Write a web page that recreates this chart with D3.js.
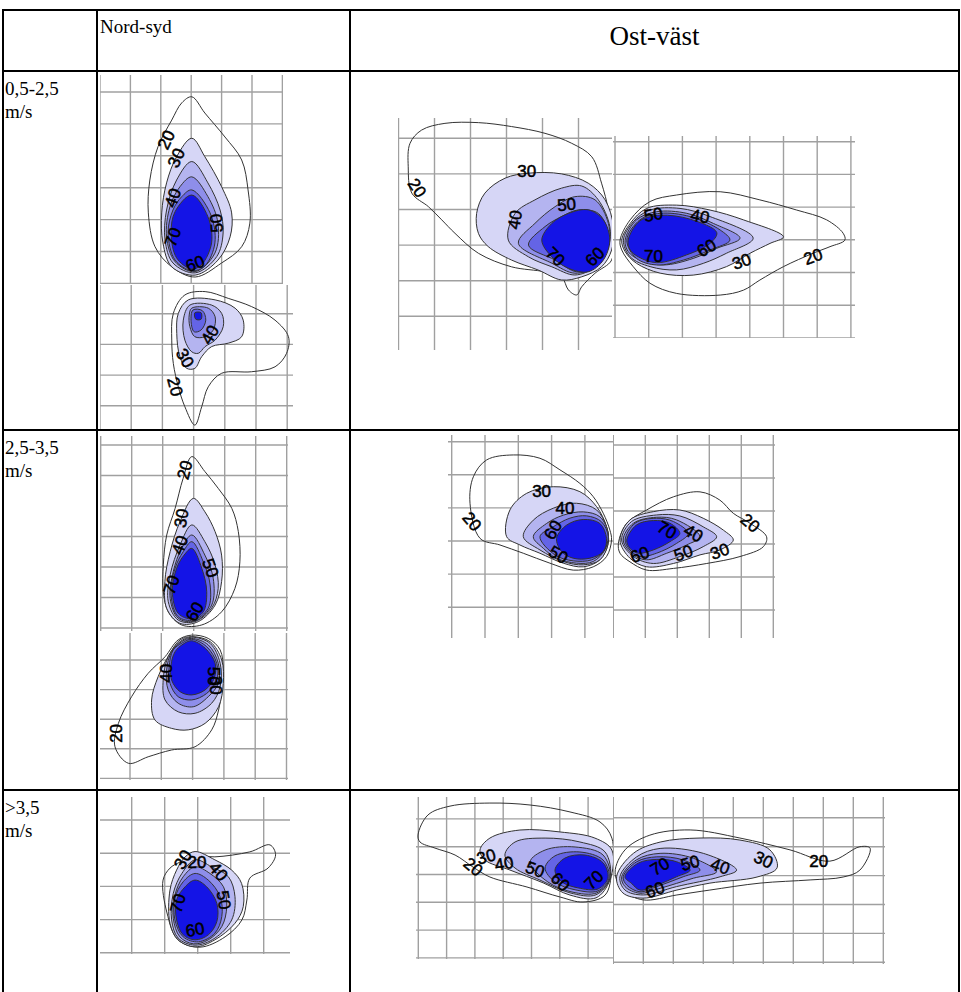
<!DOCTYPE html>
<html>
<head>
<meta charset="utf-8">
<script src="https://cdn.jsdelivr.net/npm/d3@7"></script>
<style>
  body { margin: 0; background: #fff; }
  svg { display: block; }
</style>
</head>
<body>
<svg id="chart" width="961" height="992"></svg>
<script>
// Contour levels and their fills (20 is drawn as a line only)
const levels = [20, 30, 40, 50, 60, 70];
const levelFills = ["none", "#d6d6f6", "#b4b4f0", "#8e8eea", "#6464e6", "#1414e6"];

// Table headings
const directions = ["Nord-syd", "Ost-väst"];
const speedClasses = ["0,5-2,5", "2,5-3,5", ">3,5"];
const speedUnit = "m/s";

// Contour rings per plot: [level, [[x, y], ...]] in grid-cell units
const nsLowTop = [
  [20, [[3.02,0.15],[3.45,0.66],[4.11,1.41],[4.66,2.13],[4.87,3.07],[4.93,4.11],[4.66,4.85],[4.0,5.36],[3.13,5.80],[2.36,5.48],[1.81,4.85],[1.59,3.79],[1.64,2.76],[1.91,1.71],[2.36,0.88],[2.69,0.34]]],
  [30, [[3.02,1.45],[3.45,2.03],[4.0,2.97],[4.33,3.79],[4.28,4.54],[3.88,5.27],[3.13,5.74],[2.36,5.48],[2.07,4.73],[2.03,3.79],[2.19,2.85],[2.52,2.03]]],
  [40, [[3.02,2.18],[3.55,2.85],[3.95,3.70],[4.05,4.42],[3.84,5.16],[3.13,5.67],[2.40,5.36],[2.14,4.64],[2.19,3.70],[2.52,2.76]]],
  [50, [[3.02,2.66],[3.55,3.28],[3.88,4.11],[3.78,5.05],[3.13,5.63],[2.47,5.32],[2.19,4.54],[2.30,3.60],[2.63,2.97]]],
  [60, [[3.02,3.07],[3.62,3.79],[3.78,4.73],[3.45,5.45],[3.02,5.60],[2.47,5.27],[2.24,4.42],[2.40,3.70],[2.69,3.28]]],
  [70, [[3.02,3.23],[3.55,3.91],[3.67,4.73],[3.35,5.40],[3.02,5.55],[2.52,5.20],[2.34,4.42],[2.47,3.75]]]
];
const nsLowTopLabels = [[20,2.19,1.50,-65],[30,2.52,2.07,-65],[40,2.40,3.32,-70],[50,3.84,4.11,-95],[70,2.40,4.55,-70],[60,3.13,5.39,-20]];

const nsLowBottom = [
  [20, [[2.72,0.39],[3.37,0.28],[4.11,0.50],[4.86,0.77],[5.61,1.21],[6.04,1.75],[5.98,2.29],[5.61,2.73],[4.86,2.89],[3.90,2.94],[3.47,3.38],[3.26,4.03],[3.04,4.63],[2.72,4.03],[2.51,3.38],[2.35,2.62],[2.30,1.86],[2.35,0.99]]],
  [30, [[2.83,0.55],[3.69,0.55],[4.33,0.82],[4.59,1.21],[4.54,1.75],[4.11,1.96],[3.58,2.07],[3.26,2.40],[3.04,2.78],[2.78,2.78],[2.56,2.40],[2.46,1.64],[2.51,0.99]]],
  [40, [[2.88,0.72],[3.58,0.72],[3.90,0.99],[3.95,1.42],[3.69,1.86],[3.37,2.07],[3.15,2.29],[2.94,2.24],[2.72,1.86],[2.67,1.21]]],
  [50, [[2.94,0.82],[3.47,0.82],[3.69,1.10],[3.63,1.53],[3.37,1.75],[3.04,1.75],[2.88,1.42],[2.86,1.04]]],
  [60, [[2.98,0.88],[3.28,0.90],[3.39,1.21],[3.24,1.53],[3.02,1.59],[2.92,1.26]]],
  [70, [[3.04,0.97],[3.24,0.97],[3.24,1.18],[3.07,1.18]]]
];
const nsLowBottomLabels = [[40,3.53,1.69,-60],[30,2.72,2.45,60],[20,2.40,3.38,75]];

const ewLowWest = [
  [20, [[0.27,0.80],[0.32,0.14],[0.64,-0.23],[1.29,-0.42],[2.22,-0.44],[3.14,-0.33],[4.07,-0.14],[4.81,0.14],[5.37,0.52],[5.64,1.26],[5.83,2.01],[5.92,2.76],[5.92,3.42],[5.46,3.79],[5.09,4.17],[4.95,4.40],[4.72,4.26],[4.53,3.89],[4.07,3.75],[3.14,3.61],[2.22,3.23],[1.57,2.67],[1.20,2.29],[0.83,1.92],[0.37,1.54]]],
  [30, [[2.17,2.11],[2.40,1.54],[2.96,1.12],[3.61,0.98],[4.53,1.00],[5.27,1.26],[5.74,1.73],[5.97,2.48],[5.92,3.14],[5.64,3.61],[5.09,3.89],[4.53,3.98],[3.88,3.70],[3.14,3.42],[2.49,3.04],[2.22,2.67]]],
  [40, [[3.05,2.86],[3.24,2.11],[3.79,1.73],[4.53,1.40],[5.09,1.34],[5.55,1.73],[5.87,2.48],[5.83,3.04],[5.46,3.61],[4.90,3.84],[4.26,3.61],[3.61,3.33]]],
  [50, [[3.33,2.95],[3.79,2.39],[4.35,1.92],[4.90,1.64],[5.46,1.73],[5.83,2.39],[5.83,3.04],[5.46,3.61],[4.90,3.79],[4.26,3.51]]],
  [60, [[3.61,3.00],[4.07,2.48],[4.53,2.20],[5.00,2.01],[5.55,2.11],[5.83,2.67],[5.78,3.14],[5.46,3.61],[4.95,3.75],[4.35,3.42]]],
  [70, [[3.98,2.86],[4.26,2.39],[4.72,2.11],[5.27,2.01],[5.69,2.29],[5.87,2.86],[5.69,3.42],[5.27,3.75],[4.72,3.65],[4.26,3.33]]]
];
const ewLowWestLabels = [[20,0.51,1.40,55],[30,3.56,0.94,0],[40,3.24,2.29,-80],[50,4.67,1.87,-5],[70,4.35,3.33,45],[60,5.46,3.33,-45]];

const ewLowEast = [
  [20, [[0.15,3.01],[0.45,2.39],[1.04,1.83],[1.83,1.63],[3.12,1.53],[4.30,1.78],[5.39,2.09],[6.28,2.39],[6.77,2.80],[6.82,3.01],[6.38,3.21],[5.88,3.41],[5.00,3.82],[4.30,4.23],[3.81,4.54],[3.12,4.69],[1.83,4.64],[1.04,4.33],[0.54,3.82],[0.20,3.31]]],
  [30, [[0.20,3.01],[0.45,2.50],[0.94,2.04],[1.83,1.94],[2.82,2.09],[3.81,2.39],[5.00,2.91],[4.60,3.11],[4.01,3.41],[3.31,3.82],[2.32,4.08],[1.34,4.02],[0.64,3.72],[0.30,3.36]]],
  [40, [[0.25,3.01],[0.54,2.45],[1.04,2.09],[1.93,2.04],[2.82,2.29],[4.10,2.95],[3.31,3.41],[2.62,3.72],[1.83,3.92],[1.04,3.82],[0.45,3.52]]],
  [50, [[0.30,3.01],[0.64,2.39],[1.24,2.14],[2.13,2.19],[2.92,2.50],[3.71,2.95],[3.02,3.26],[2.32,3.57],[1.43,3.77],[0.74,3.62],[0.39,3.36]]],
  [60, [[0.35,3.01],[0.74,2.39],[1.34,2.19],[2.23,2.29],[3.12,2.70],[3.41,3.01],[2.82,3.31],[2.03,3.62],[1.24,3.77],[0.64,3.57]]],
  [70, [[0.39,3.01],[0.74,2.42],[1.34,2.25],[2.23,2.37],[3.02,2.78],[2.82,3.11],[2.13,3.46],[1.24,3.70],[0.69,3.52],[0.45,3.31]]]
];
const ewLowEastLabels = [[50,1.14,2.24,-10],[40,2.52,2.29,10],[70,1.14,3.52,0],[60,2.72,3.26,-30],[30,3.76,3.67,-20],[20,5.88,3.52,-20]];

const nsMidTop = [
  [20, [[2.94,0.38],[3.36,0.87],[3.79,1.42],[4.23,2.08],[4.44,2.84],[4.49,3.83],[4.33,4.70],[3.90,5.47],[3.26,5.90],[2.61,5.90],[2.18,5.47],[2.02,4.81],[2.02,3.93],[2.13,2.95],[2.40,2.08],[2.66,1.09]]],
  [30, [[2.99,1.75],[3.36,2.19],[3.69,2.84],[3.90,3.61],[3.90,4.48],[3.69,5.25],[3.15,5.79],[2.56,5.85],[2.13,5.36],[2.07,4.48],[2.24,3.50],[2.56,2.51]]],
  [40, [[2.94,2.62],[3.36,3.17],[3.69,3.93],[3.79,4.70],[3.58,5.35],[3.04,5.79],[2.50,5.74],[2.18,5.14],[2.24,4.26],[2.56,3.28]]],
  [50, [[2.94,2.95],[3.36,3.61],[3.63,4.37],[3.58,5.25],[3.04,5.77],[2.50,5.68],[2.24,5.03],[2.34,4.15],[2.61,3.39]]],
  [60, [[2.94,3.17],[3.31,3.83],[3.53,4.59],[3.47,5.35],[2.99,5.74],[2.50,5.63],[2.27,4.92],[2.40,4.04],[2.66,3.50]]],
  [70, [[2.94,3.39],[3.26,4.04],[3.42,4.81],[3.31,5.47],[2.94,5.70],[2.50,5.52],[2.31,4.81],[2.45,4.04],[2.69,3.61]]]
];
const nsMidTopLabels = [[20,2.72,0.82,-75],[30,2.61,2.40,-80],[40,2.56,3.28,-70],[50,3.53,4.04,70],[70,2.29,4.59,-70],[60,3.04,5.47,-60]];

const nsMidBottom = [
  [20, [[2.97,0.16],[3.50,0.27],[3.88,0.66],[3.98,1.34],[3.93,2.01],[3.83,2.69],[3.61,3.36],[3.08,3.93],[2.33,4.04],[1.58,4.27],[0.95,4.49],[0.52,3.93],[0.63,3.14],[1.05,2.24],[1.58,1.45],[2.12,0.89],[2.54,0.32]]],
  [30, [[2.97,0.21],[3.56,0.38],[3.93,1.00],[3.98,1.79],[3.83,2.58],[3.40,3.14],[2.86,3.36],[2.33,3.31],[1.80,3.03],[1.69,2.35],[1.90,1.56],[2.28,0.77],[2.60,0.32]]],
  [40, [[2.97,0.23],[3.56,0.44],[3.88,1.11],[3.88,1.90],[3.61,2.46],[3.08,2.80],[2.54,2.75],[2.12,2.35],[2.06,1.68],[2.22,0.89],[2.60,0.38]]],
  [50, [[2.97,0.27],[3.50,0.49],[3.82,1.11],[3.82,1.79],[3.50,2.24],[3.02,2.58],[2.54,2.46],[2.22,2.01],[2.17,1.34],[2.33,0.72],[2.65,0.38]]],
  [60, [[2.97,0.30],[3.45,0.55],[3.77,1.11],[3.77,1.68],[3.45,2.13],[2.97,2.35],[2.54,2.24],[2.28,1.79],[2.25,1.23],[2.38,0.66],[2.67,0.42]]],
  [70, [[2.97,0.35],[3.40,0.60],[3.72,1.11],[3.69,1.62],[3.40,2.01],[2.97,2.18],[2.60,2.07],[2.33,1.68],[2.31,1.17],[2.44,0.72],[2.70,0.46]]]
];
const nsMidBottomLabels = [[40,2.17,1.45,-90],[50,3.66,1.55,90],[30,3.74,1.85,90],[20,0.58,3.48,-90]];

const ewMidWest = [
  [20, [[0.55,1.86],[0.65,1.06],[1.05,0.55],[1.85,0.40],[2.65,0.50],[3.25,0.85],[3.85,1.26],[4.25,1.66],[4.55,2.16],[4.75,2.67],[4.80,2.97],[4.65,3.47],[4.25,3.78],[3.65,3.88],[2.95,3.67],[2.15,3.37],[1.45,3.12],[0.85,2.92]]],
  [30, [[1.65,2.87],[1.75,2.06],[2.25,1.56],[3.05,1.36],[3.85,1.51],[4.35,1.96],[4.65,2.57],[4.70,3.07],[4.45,3.57],[3.95,3.78],[3.35,3.67],[2.65,3.37],[2.05,3.12]]],
  [40, [[2.15,2.87],[2.45,2.37],[3.05,2.01],[3.75,1.86],[4.35,2.06],[4.65,2.57],[4.70,3.07],[4.45,3.57],[3.95,3.72],[3.35,3.62],[2.65,3.27]]],
  [50, [[2.45,2.87],[2.85,2.47],[3.35,2.22],[3.95,2.12],[4.45,2.27],[4.70,2.77],[4.60,3.27],[4.25,3.62],[3.75,3.67],[3.15,3.52],[2.75,3.22]]],
  [60, [[2.65,2.87],[3.05,2.57],[3.55,2.31],[4.05,2.24],[4.50,2.42],[4.70,2.87],[4.55,3.32],[4.20,3.57],[3.65,3.60],[3.10,3.42]]],
  [70, [[3.15,2.92],[3.45,2.52],[3.95,2.35],[4.45,2.47],[4.65,2.92],[4.55,3.32],[4.15,3.52],[3.65,3.52],[3.30,3.32]]]
];
const ewMidWestLabels = [[20,0.60,2.42,50],[30,2.70,1.51,0],[40,3.40,2.01,0],[60,3.05,2.67,-60],[50,3.20,3.42,30]];

const ewMidEast = [
  [20, [[0.16,2.98],[0.42,2.37],[1.04,1.97],[1.88,1.57],[2.71,1.42],[3.33,1.67],[3.75,2.07],[4.27,2.37],[4.79,2.78],[4.69,3.08],[3.96,3.38],[2.92,3.59],[1.88,3.74],[1.04,3.79],[0.52,3.54],[0.21,3.28]]],
  [30, [[0.21,2.88],[0.52,2.27],[1.25,2.02],[2.08,1.97],[2.81,2.22],[3.44,2.58],[3.75,2.88],[3.33,3.18],[2.71,3.33],[1.88,3.59],[1.04,3.69],[0.52,3.43]]],
  [40, [[0.26,2.88],[0.57,2.32],[1.35,2.12],[2.08,2.15],[2.81,2.48],[3.23,2.78],[2.81,3.08],[2.08,3.38],[1.25,3.59],[0.63,3.38]]],
  [50, [[0.31,2.88],[0.63,2.37],[1.35,2.19],[1.98,2.27],[2.71,2.78],[2.29,3.03],[1.67,3.28],[1.04,3.48],[0.63,3.33]]],
  [60, [[0.37,2.88],[0.68,2.37],[1.35,2.22],[1.88,2.32],[2.34,2.68],[1.98,2.98],[1.35,3.28],[0.83,3.38],[0.52,3.18]]],
  [70, [[0.42,2.88],[0.73,2.42],[1.25,2.29],[1.77,2.37],[2.08,2.68],[1.77,2.93],[1.25,3.18],[0.78,3.28],[0.52,3.13]]]
];
const ewMidEastLabels = [[70,1.67,2.58,30],[40,2.50,2.68,30],[20,4.27,2.37,40],[60,0.83,3.33,-20],[50,2.19,3.28,-20],[30,3.33,3.23,-20]];

const nsHigh = [
  [20, [[2.46,1.27],[2.98,1.08],[3.52,1.11],[4.58,0.96],[5.19,0.75],[5.36,1.05],[5.13,1.45],[4.58,1.75],[4.49,2.41],[4.34,3.01],[3.83,3.52],[3.07,3.83],[2.40,3.61],[2.07,2.80],[1.95,1.81],[2.16,1.45]]],
  [30, [[2.92,0.95],[3.52,1.20],[4.03,1.51],[4.33,1.91],[4.38,2.61],[4.13,3.11],[3.52,3.61],[2.92,3.82],[2.41,3.61],[2.16,3.11],[2.16,2.11],[2.36,1.51],[2.62,1.11]]],
  [40, [[2.92,1.20],[3.42,1.41],[3.93,1.71],[4.13,2.31],[4.03,3.01],[3.52,3.56],[2.92,3.77],[2.41,3.56],[2.21,3.01],[2.26,2.21],[2.52,1.61]]],
  [50, [[2.92,1.41],[3.37,1.61],[3.78,2.01],[3.88,2.61],[3.73,3.21],[3.32,3.61],[2.87,3.73],[2.46,3.52],[2.26,2.96],[2.31,2.26],[2.56,1.71]]],
  [60, [[2.92,1.61],[3.32,1.81],[3.68,2.31],[3.73,2.91],[3.52,3.41],[3.02,3.67],[2.56,3.52],[2.31,3.01],[2.31,2.36],[2.56,1.86]]],
  [70, [[2.92,1.81],[3.27,2.01],[3.58,2.51],[3.58,3.06],[3.32,3.46],[2.92,3.61],[2.56,3.46],[2.36,3.01],[2.36,2.41],[2.62,2.01]]]
];
const nsHighLabels = [[20,2.98,1.27,0],[30,2.56,1.20,-60],[40,3.62,1.56,50],[50,3.78,2.41,80],[70,2.41,2.51,-75],[60,2.92,3.31,-10]];

const ewHighWest = [
  [20, [[-0.01,0.58],[0.34,-0.14],[1.12,-0.46],[2.53,-0.57],[3.95,-0.50],[5.36,-0.25],[6.42,0.11],[6.84,0.69],[6.84,1.83],[6.60,2.74],[5.82,2.99],[5.01,2.81],[3.84,2.45],[2.53,2.09],[1.93,1.73],[1.30,1.30],[0.59,1.05],[0.06,0.83]]],
  [30, [[2.18,1.12],[2.53,0.69],[3.59,0.40],[5.01,0.47],[6.24,0.69],[6.84,1.12],[6.77,2.20],[6.28,2.84],[5.36,2.74],[4.41,2.30],[3.24,1.84],[2.36,1.48]]],
  [40, [[3.06,1.30],[3.42,0.83],[4.48,0.69],[5.71,0.83],[6.60,1.19],[6.77,2.13],[6.28,2.73],[5.36,2.66],[4.30,2.20],[3.42,1.77]]],
  [50, [[3.95,1.55],[4.48,1.12],[5.54,1.01],[6.53,1.30],[6.77,2.13],[6.31,2.66],[5.43,2.63],[4.58,2.27]]],
  [60, [[4.48,1.77],[4.83,1.33],[5.71,1.19],[6.53,1.48],[6.74,2.13],[6.35,2.59],[5.54,2.55],[4.83,2.27]]],
  [70, [[4.83,1.84],[5.18,1.41],[5.89,1.30],[6.53,1.58],[6.70,2.13],[6.35,2.52],[5.64,2.48],[5.08,2.27]]]
];
const ewHighWestLabels = [[20,1.93,1.73,40],[30,2.40,1.37,-15],[40,3.03,1.62,-10],[50,4.12,1.83,20],[60,5.01,2.27,45],[70,6.21,2.20,-45]];

const ewHighEast = [
  [20, [[0.39,1.11],[1.22,0.60],[2.56,0.42],[4.22,0.70],[5.89,1.11],[7.22,1.50],[8.22,1.00],[8.56,1.05],[8.22,1.81],[7.66,2.05],[6.56,2.15],[4.89,2.26],[3.22,2.50],[2.12,2.67],[0.99,2.84],[0.32,2.50],[0.06,1.88]]],
  [30, [[0.11,2.04],[0.67,1.23],[1.56,0.84],[2.89,0.70],[4.22,0.77],[5.22,1.11],[5.46,1.73],[4.79,2.05],[3.22,2.26],[2.12,2.50],[0.99,2.78],[0.32,2.60]]],
  [40, [[0.22,2.04],[0.78,1.35],[1.56,1.06],[3.00,1.23],[4.11,1.81],[3.56,2.04],[2.11,2.38],[1.00,2.67],[0.39,2.50]]],
  [50, [[0.28,2.04],[0.78,1.45],[1.56,1.23],[2.67,1.40],[3.44,1.87],[2.67,2.09],[1.56,2.44],[0.89,2.61],[0.39,2.38]]],
  [60, [[0.33,2.04],[0.78,1.52],[1.45,1.35],[2.33,1.46],[2.89,1.81],[2.33,2.04],[1.45,2.38],[0.89,2.56],[0.45,2.33]]],
  [70, [[0.39,2.04],[0.83,1.57],[1.45,1.44],[2.11,1.52],[2.56,1.81],[2.11,2.04],[1.45,2.33],[0.89,2.50],[0.61,2.27]]]
];
const ewHighEastLabels = [[70,1.56,1.69,-30],[50,2.56,1.57,-15],[40,3.56,1.69,20],[30,5.0,1.46,25],[60,1.39,2.50,-20],[20,6.85,1.52,0]];

// Placement of each plot: frame [x, y, w, h] and grid [x0, cellW, y0, cellH] in px
const panels = [
  { rings: nsLowTop,    labels: nsLowTopLabels,    frame: [100, 75, 183, 209],  grid: [100, 30.4, 92, 31.9] },
  { rings: nsLowBottom, labels: nsLowBottomLabels, frame: [100, 285, 193, 145], grid: [100, 31.2, 283, 30.7] },
  { rings: ewLowWest,   labels: ewLowWestLabels,   frame: [398, 118, 214, 232], grid: [398.5, 36, 138.3, 35.6] },
  { rings: ewLowEast,   labels: ewLowEastLabels,   frame: [613, 136, 242, 202], grid: [615, 33.7, 141.7, 32.7] },
  { rings: nsMidTop,    labels: nsMidTopLabels,    frame: [100, 436, 188, 195], grid: [100.7, 31, 445, 30.5] },
  { rings: nsMidBottom, labels: nsMidBottomLabels, frame: [100, 633, 188, 147], grid: [98.7, 31.3, 630.4, 29.6] },
  { rings: ewMidWest,   labels: ewMidWestLabels,   frame: [448, 435, 166, 203], grid: [451.7, 33.3, 441.7, 33.1] },
  { rings: ewMidEast,   labels: ewMidEastLabels,   frame: [613, 435, 162, 203], grid: [613.3, 32, 445, 33] },
  { rings: nsHigh,      labels: nsHighLabels,      frame: [100, 797, 190, 157], grid: [98.7, 33, 820, 33.2] },
  { rings: ewHighWest,  labels: ewHighWestLabels,  frame: [416, 797, 198, 162], grid: [418.3, 28.3, 818.9, 27.8] },
  { rings: ewHighEast,  labels: ewHighEastLabels,  frame: [613, 797, 272, 167], grid: [613.3, 30, 817.8, 28.9] }
];

const svg = d3.select("#chart");
const defs = svg.append("defs");
const fillOf = d3.scaleOrdinal().domain(levels).range(levelFills);

panels.forEach((p, i) => {
  const [fx, fy, fw, fh] = p.frame;
  const [gx0, cw, gy0, ch] = p.grid;
  const x = d3.scaleLinear().domain([0, 1]).range([gx0, gx0 + cw]);
  const y = d3.scaleLinear().domain([0, 1]).range([gy0, gy0 + ch]);

  defs.append("clipPath").attr("id", "plot" + i)
    .append("rect").attr("x", fx).attr("y", fy).attr("width", fw).attr("height", fh);
  const g = svg.append("g").attr("clip-path", `url(#plot${i})`);
  g.append("rect").attr("x", fx).attr("y", fy).attr("width", fw).attr("height", fh).attr("fill", "#fff");

  // grid lines at every whole cell
  const xs = d3.range(Math.ceil(x.invert(fx) - 1e-6), Math.floor(x.invert(fx + fw) + 1e-6) + 1);
  const ys = d3.range(Math.ceil(y.invert(fy) - 1e-6), Math.floor(y.invert(fy + fh) + 1e-6) + 1);
  g.selectAll(".vx").data(xs).join("line")
    .attr("x1", d => x(d)).attr("x2", d => x(d)).attr("y1", fy).attr("y2", fy + fh)
    .attr("stroke", "#a0a0a0").attr("stroke-width", 1.4);
  g.selectAll(".hy").data(ys).join("line")
    .attr("y1", d => y(d)).attr("y2", d => y(d)).attr("x1", fx).attr("x2", fx + fw)
    .attr("stroke", "#a0a0a0").attr("stroke-width", 1.4);

  const ring = d3.line().x(d => x(d[0])).y(d => y(d[1]))
    .curve(d3.curveCatmullRomClosed.alpha(0.5));
  g.selectAll(".ring").data(p.rings).join("path")
    .attr("d", d => ring(d[1]))
    .attr("fill", d => fillOf(d[0]))
    .attr("stroke", "#333").attr("stroke-width", 1);

  g.selectAll(".lab").data(p.labels).join("text")
    .attr("transform", d => `translate(${x(d[1])},${y(d[2])}) rotate(${d[3]})`)
    .attr("text-anchor", "middle").attr("dominant-baseline", "central")
    .style("font-family", "'Liberation Sans', Arial, sans-serif")
    .style("font-size", "17px")
    .attr("fill", "#000").attr("stroke", "#000").attr("stroke-width", 0.5)
    .text(d => d[0]);
});

// Table rules
const colX = [3, 97, 350, 959];
const rowY = [10, 71, 430, 790, 994];
const table = svg.append("g").attr("stroke", "#000").attr("stroke-width", 2);
table.selectAll(".c").data(colX).join("line")
  .attr("x1", d => d).attr("x2", d => d).attr("y1", rowY[0]).attr("y2", rowY[rowY.length - 1]);
table.selectAll(".r").data(rowY).join("line")
  .attr("y1", d => d).attr("y2", d => d).attr("x1", colX[0] - 1).attr("x2", colX[colX.length - 1] + 1);

const serif = "'Liberation Serif', 'Times New Roman', serif";
svg.append("text").attr("x", 100).attr("y", 33).style("font-family", serif).style("font-size", "19px")
  .text(directions[0]);
svg.append("text").attr("x", (colX[2] + colX[3]) / 2).attr("y", 45).attr("text-anchor", "middle")
  .style("font-family", serif).style("font-size", "27px").text(directions[1]);

speedClasses.forEach((s, i) => {
  const t = svg.append("text").style("font-family", serif).style("font-size", "19px");
  t.append("tspan").attr("x", 5).attr("y", rowY[i + 1] + 24).text(s);
  t.append("tspan").attr("x", 5).attr("y", rowY[i + 1] + 47).text(speedUnit);
});
</script>
</body>
</html>
